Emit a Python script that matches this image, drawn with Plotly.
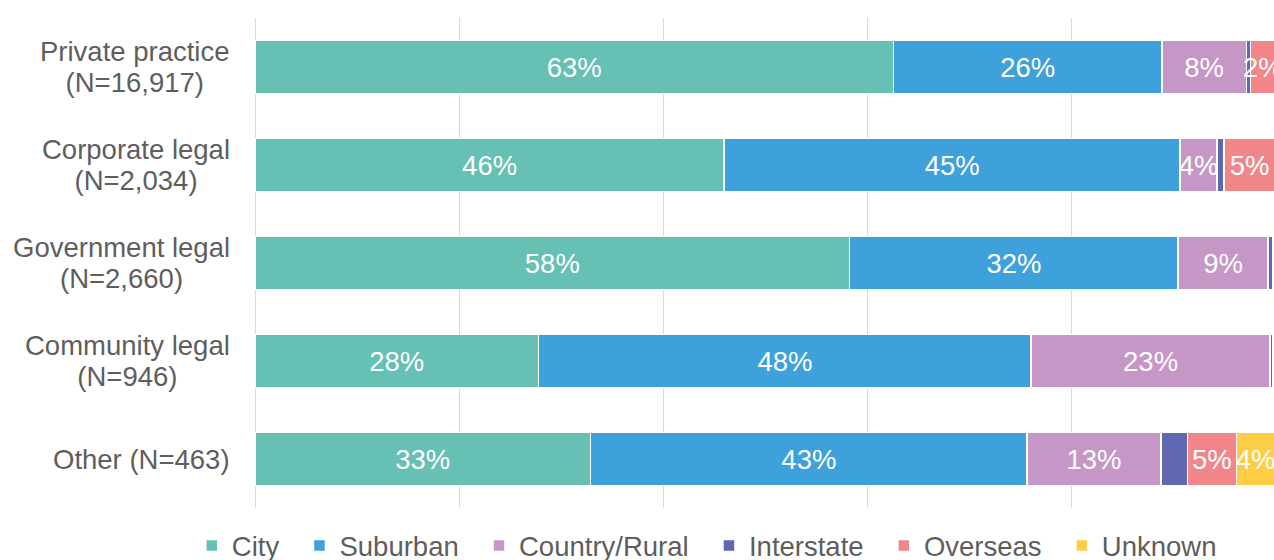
import plotly.graph_objects as go

# Workplace categories (top to bottom) and their respondent counts
categories = ["Private practice", "Corporate legal", "Government legal",
              "Community legal", "Other"]
counts = ["16,917", "2,034", "2,660", "946", "463"]

# Share of respondents by location of work (%), one list per location
city = [62.6, 46.0, 58.3, 27.8, 32.9]
suburban = [26.3, 44.7, 32.2, 48.3, 42.8]
country_rural = [8.3, 3.6, 8.8, 23.4, 13.1]
interstate = [0.4, 0.7, 0.5, 0.3, 2.6]
overseas = [2.4, 5.0, 0.2, 0.2, 4.8]
unknown = [0.0, 0.0, 0.0, 0.0, 3.8]

series = [
    ("City", city, "#66c0b3", True),
    ("Suburban", suburban, "#3ea1dc", True),
    ("Country/Rural", country_rural, "#c697c6", True),
    ("Interstate", interstate, "#6068b0", False),
    ("Overseas", overseas, "#f0868a", True),
    ("Unknown", unknown, "#ffcd45", True),
]

GREY = "#5e5e5e"
FONT = "Liberation Sans, Arial, sans-serif"
SIZE = 27.5
PAD = "\u00a0\u00a0"  # extra room after each legend entry

fig = go.Figure()
for i, (name, values, color, labelled) in enumerate(series):
    text = [f"{v:.0f}%" if labelled and v >= 1.5 else "" for v in values]
    fig.add_trace(go.Bar(
        name=name + (PAD if i < len(series) - 1 else ""),
        y=categories,
        x=values,
        orientation="h",
        marker=dict(color=color, line=dict(color="white", width=1.5)),
        text=text,
        textposition="inside",
        insidetextanchor="middle",
        textangle=0,
        constraintext="none",
        textfont=dict(color="white", size=SIZE, family=FONT),
        hovertemplate="%{y}: %{x}%<extra>" + name + "</extra>",
    ))


def big(s):
    return f'<span style="font-size:{SIZE}px">{s}</span>'


# Category labels with the sample size; lines centred within each block.
# The base font sets a tighter line pitch, the span sets the glyph size.
for cat, n in zip(categories, counts):
    if cat == "Other":
        label = big(f"{cat} (N={n})")
    else:
        label = big(cat) + "<br>" + big(f"(N={n})")
    fig.add_annotation(
        x=0, xref="paper", y=cat, yref="y",
        text=label, showarrow=False,
        xanchor="right", xshift=-23, align="center",
        font=dict(size=24, color=GREY, family=FONT),
    )

fig.update_layout(
    width=1274, height=560,
    margin=dict(l=255, r=0, t=18, b=52, autoexpand=False),
    barmode="stack",
    bargap=0.46,
    plot_bgcolor="white",
    paper_bgcolor="white",
    font=dict(family=FONT, size=SIZE, color=GREY),
    showlegend=True,
    legend=dict(
        orientation="h",
        x=-0.062, xanchor="left",
        y=-0.027, yanchor="top",
        font=dict(size=SIZE, color=GREY, family=FONT),
        traceorder="normal",
        itemwidth=30,
        bgcolor="rgba(0,0,0,0)",
    ),
    xaxis=dict(
        range=[0, 99.9],
        dtick=20,
        showticklabels=False,
        showgrid=True,
        gridcolor="#d9d9d9",
        gridwidth=1,
        zeroline=True,
        zerolinecolor="#d9d9d9",
        zerolinewidth=1,
        fixedrange=True,
    ),
    yaxis=dict(
        autorange="reversed",
        showticklabels=False,
        showgrid=False,
        zeroline=False,
        fixedrange=True,
    ),
)

fig.write_html("out.html")
